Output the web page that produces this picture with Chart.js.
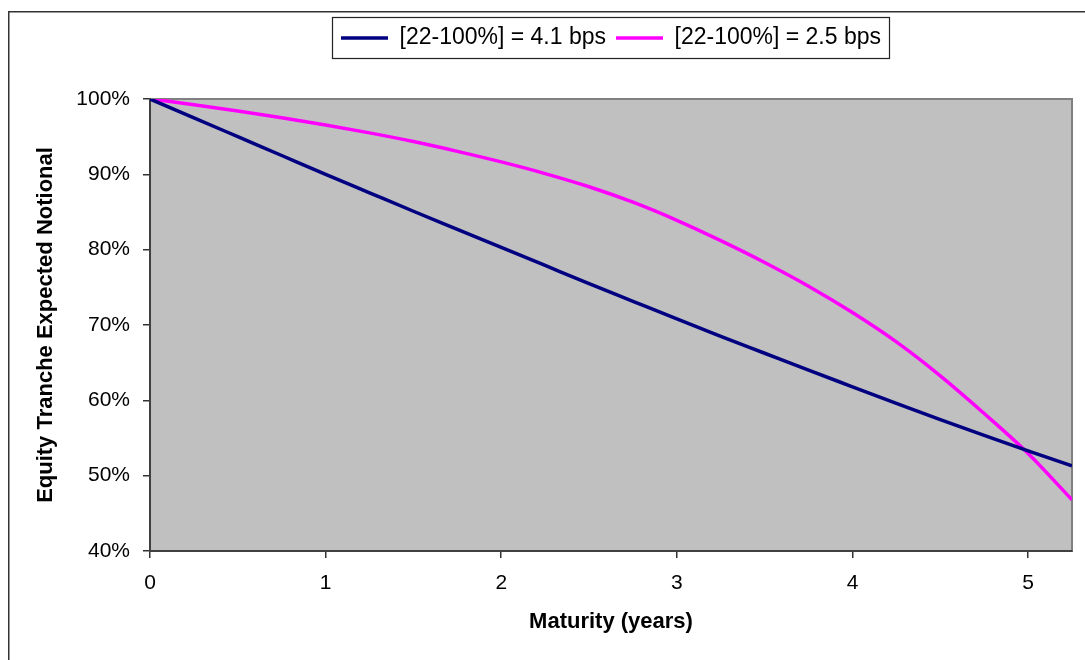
<!DOCTYPE html>
<html>
<head>
<meta charset="utf-8">
<script src="https://cdn.jsdelivr.net/npm/chart.js@4"></script>
<style>
html,body{margin:0;padding:0;background:#fff;}
#wrap{width:1085px;height:660px;}
</style>
</head>
<body>
<div id="wrap"><canvas id="c" width="1085" height="660"></canvas></div>
<script>
// ---- data ----
const maturities = [0,0.25,0.5,0.75,1,1.25,1.5,1.75,2,2.25,2.5,2.75,3,3.25,3.5,3.75,4,4.25,4.5,4.75,5,5.25];
const notional41bps = [100,97.5,95.0,92.5,90.0,87.55,85.1,82.7,80.3,77.9,75.5,73.15,70.8,68.5,66.25,64.0,61.8,59.6,57.45,55.35,53.3,51.3];
const notional25bps = [100,99.25,98.4,97.5,96.55,95.5,94.35,93.05,91.65,90.1,88.35,86.3,83.9,81.2,78.3,75.15,71.65,67.75,63.25,58.25,52.95,46.8];
const seriesLabels = ['[22-100%] = 4.1 bps', '[22-100%] = 2.5 bps'];
const xTicks = [0,1,2,3,4,5];
const yTicks = [40,50,60,70,80,90,100];
const xTitle = 'Maturity (years)';
const yTitle = 'Equity Tranche Expected Notional';

const FONT = 'Liberation Sans, Arial, sans-serif';

const toPoints = (xs, ys) => xs.map((x, i) => ({x: x, y: ys[i]}));

const framePlugin = {
  id: 'frame',
  beforeDraw(chart) {
    const {ctx, chartArea: a} = chart;
    ctx.save();
    ctx.fillStyle = '#ffffff';
    ctx.fillRect(0, 0, chart.width, chart.height);
    ctx.strokeStyle = '#333333';
    ctx.lineWidth = 1.5;
    ctx.strokeRect(8.75, 11.75, chart.width + 20, chart.height + 20);
    ctx.fillStyle = '#C0C0C0';
    ctx.fillRect(a.left, a.top, a.right - a.left, a.bottom - a.top);
    ctx.strokeStyle = '#808080';
    ctx.lineWidth = 2;
    ctx.strokeRect(a.left, a.top, a.right - a.left, a.bottom - a.top);
    ctx.restore();
  },
  afterDraw(chart) {
    const lg = chart.legend;
    if (!lg || !lg.legendHitBoxes || !lg.legendHitBoxes.length) return;
    const hb = lg.legendHitBoxes;
    const last = hb[hb.length - 1];
    const l = Math.round(hb[0].left - 9) + 0.5;
    const r = Math.round(last.left + last.width + 8) + 0.5;
    const t = Math.round(hb[0].top - 10) + 0.5;
    const b = Math.round(hb[0].top + hb[0].height + 8) + 0.5;
    const ctx = chart.ctx;
    ctx.save();
    ctx.strokeStyle = '#222222';
    ctx.lineWidth = 1.2;
    ctx.strokeRect(l, t, r - l, b - t);
    ctx.restore();
  }
};

const lineStyle = (color) => ({
  showLine: true,
  borderColor: color,
  backgroundColor: color,
  borderWidth: 3.5,
  pointRadius: 0,
  pointHoverRadius: 0,
  pointStyle: 'line',
  cubicInterpolationMode: 'monotone'
});

new Chart(document.getElementById('c'), {
  type: 'scatter',
  data: {
    datasets: [
      Object.assign({ label: seriesLabels[0], data: toPoints(maturities, notional41bps) }, lineStyle('#000080')),
      Object.assign({ label: seriesLabels[1], data: toPoints(maturities, notional25bps) }, lineStyle('#FF00FF'))
    ]
  },
  options: {
    responsive: false,
    animation: false,
    devicePixelRatio: 1,
    layout: { padding: { top: 16.5, left: 20, right: 13, bottom: 10 } },
    plugins: {
      tooltip: { enabled: false },
      legend: {
        display: true,
        position: 'top',
        fullSize: false,
        labels: {
          usePointStyle: true,
          pointStyle: 'line',
          pointStyleWidth: 47,
          padding: 10,
          color: '#000',
          font: { family: FONT, size: 23 }
        }
      },
      title: {
        display: true,
        text: '',
        weight: 500,
        padding: { top: 29.5, bottom: 0 },
        font: { family: FONT, size: 10, lineHeight: 1 }
      }
    },
    scales: {
      x: {
        type: 'linear',
        min: 0,
        max: 5.25,
        afterFit(scale) { scale.height = 99; },
        afterBuildTicks(scale) { scale.ticks = xTicks.map(v => ({value: v})); },
        ticks: {
          color: '#000',
          padding: 13,
          maxRotation: 0,
          font: { family: FONT, size: 21 },
          callback: v => String(v)
        },
        grid: { drawOnChartArea: false, drawTicks: true, tickLength: 7, color: '#333333', lineWidth: 1.5 },
        border: { display: true, color: '#404040', width: 2 },
        title: {
          display: true,
          text: xTitle,
          color: '#000',
          padding: { top: 0, bottom: 14.8 },
          font: { family: FONT, size: 22, weight: 'bold' }
        }
      },
      y: {
        type: 'linear',
        min: 40,
        max: 100,
        afterFit(scale) { scale.width = 130; },
        afterBuildTicks(scale) { scale.ticks = yTicks.map(v => ({value: v})); },
        ticks: {
          color: '#000',
          padding: 13,
          font: { family: FONT, size: 21 },
          callback: v => v + '%'
        },
        grid: { drawOnChartArea: false, drawTicks: true, tickLength: 7, color: '#333333', lineWidth: 1.5 },
        border: { display: true, color: '#404040', width: 2 },
        title: {
          display: true,
          text: yTitle,
          color: '#000',
          padding: { top: 13, bottom: 0 },
          font: { family: FONT, size: 22, weight: 'bold' }
        }
      }
    }
  },
  plugins: [framePlugin]
});
</script>
</body>
</html>
